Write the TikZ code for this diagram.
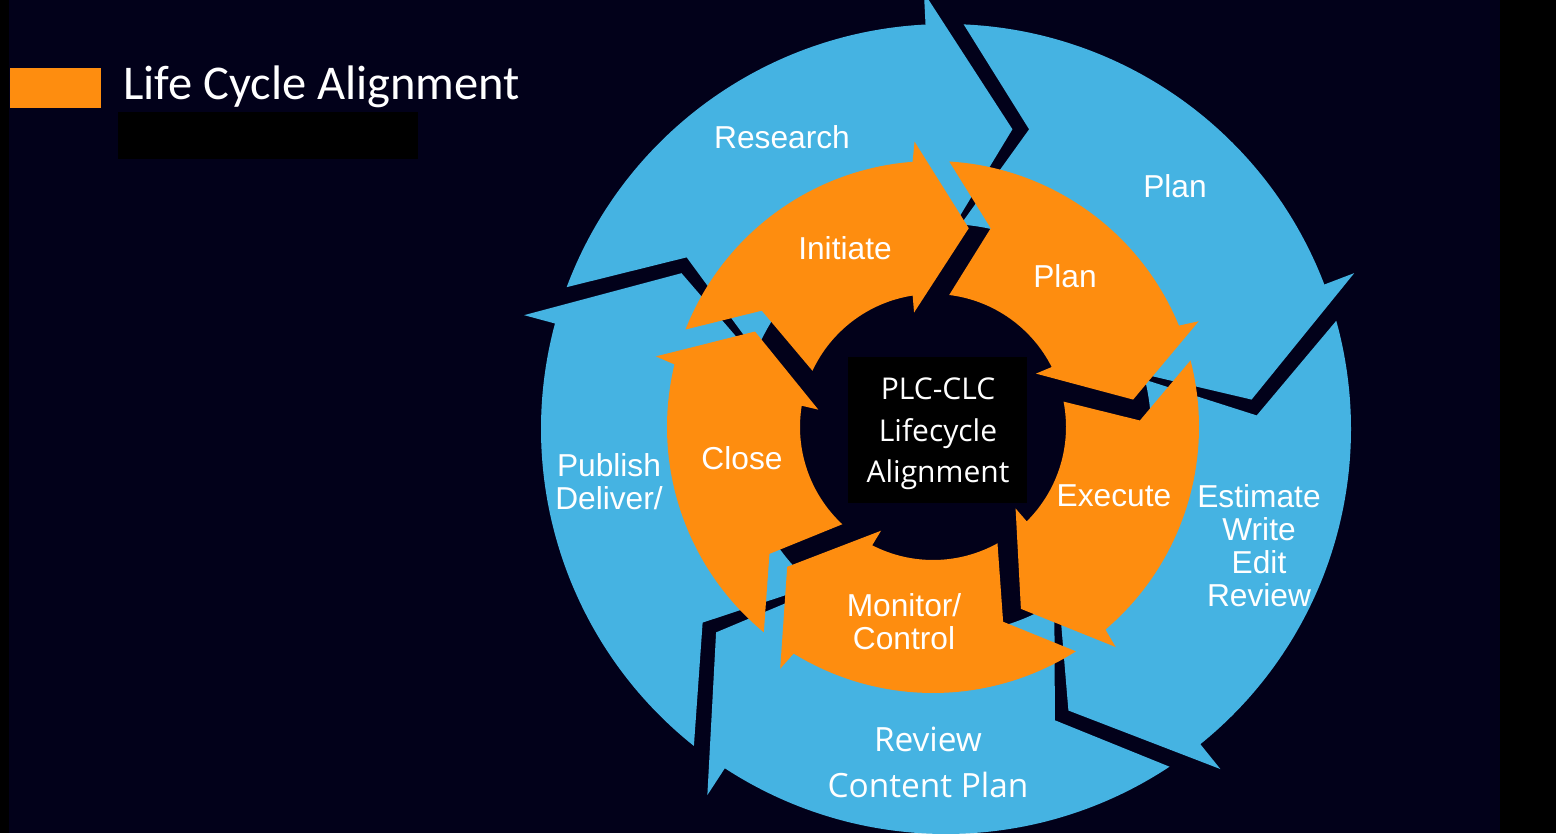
\documentclass[tikz,border=0pt]{standalone}
\usepackage{fontspec}
\setmainfont{Liberation Sans}
\newfontfamily\segoefont{Open Sans}
\newfontfamily\titlefont{Carlito}
\usetikzlibrary{calc}
\definecolor{bgnavy}{RGB}{2,1,26}
\definecolor{cycleblue}{RGB}{69,179,226}
\definecolor{cycleorange}{RGB}{254,141,15}

\tikzset{
  steplabel/.style={text=white, inner sep=0pt, align=center, font=\fontsize{31.7}{33}\selectfont},
  hublabel/.style={text=white, inner sep=0pt, align=center, font=\segoefont\fontsize{30}{41.7}\selectfont},
  reviewlabel/.style={text=white, inner sep=0pt, align=center, font=\segoefont\fontsize{33.4}{46}\selectfont},
}

\begin{document}
\begin{tikzpicture}[x=1pt, y=1pt]
  \fill[bgnavy] (0,0) rectangle (1556,833);
  \fill[black] (0,0) rectangle (9,833);
  \fill[black] (1500,0) rectangle (1556,833);
  \useasboundingbox (0,0) rectangle (1556,833);

  \coordinate (cb) at (946,404);
  \coordinate (co) at (933,406);

  \foreach \tailang in {87.5,15.5,-56.5,-128.5,-200.5} {
    \pgfmathsetmacro{\nextang}{\tailang-72}
    \pgfmathsetmacro{\endout}{\nextang+5.4}
    \pgfmathsetmacro{\tipang}{\nextang-10}
    \pgfmathsetmacro{\barbin}{\nextang+6}
    \pgfmathsetmacro{\endin}{\tailang-1.6}
    \pgfmathsetmacro{\notchang}{\tailang-13}
    \fill[cycleblue] ($(cb)+(\tailang:405)$) arc[start angle=\tailang, end angle=\endout, radius=405]
      -- ($(cb)+(\endout:437)$) -- ($(cb)+(\tipang:307)$) -- ($(cb)+(\barbin:173)$)
      -- ($(cb)+(\barbin:205)$) arc[start angle=\barbin, end angle=\endin, radius=205]
      -- ($(cb)+(\notchang:311)$) -- cycle;
  }

  \foreach \tailang in {86.5,14.5,-57.5,-129.5,-201.5} {
    \pgfmathsetmacro{\nextang}{\tailang-72}
    \pgfmathsetmacro{\endout}{\nextang+7.9}
    \pgfmathsetmacro{\barbout}{\nextang+7.2}
    \pgfmathsetmacro{\tipang}{\nextang-6.7}
    \pgfmathsetmacro{\barbin}{\nextang+12.9}
    \pgfmathsetmacro{\startin}{\nextang+12.3}
    \pgfmathsetmacro{\endin}{\tailang-3.5}
    \pgfmathsetmacro{\notchang}{\tailang-12.7}
    \fill[cycleorange] ($(co)+(\tailang:266)$) arc[start angle=\tailang, end angle=\endout, radius=266]
      -- ($(co)+(\barbout:286)$) -- ($(co)+(\tipang:202)$) -- ($(co)+(\barbin:116)$)
      -- ($(co)+(\startin:133)$) arc[start angle=\startin, end angle=\endin, radius=133]
      -- ($(co)+(\notchang:207)$) -- cycle;
  }

  \node[fill=black, inner sep=0pt, minimum width=179, minimum height=146, anchor=south west] (hub) at (848,330) {};
  \node[hublabel, anchor=base] (hubtext) at (938,350) {PLC-CLC\\Lifecycle\\Alignment};

  \node[steplabel, anchor=base] (research) at (782,684) {Research};
  \node[steplabel, anchor=base] (planblue) at (1175,635) {Plan};
  \node[steplabel, anchor=base] (estimate) at (1259,226) {Estimate\\Write\\Edit\\Review};
  \node[reviewlabel, anchor=base] (review) at (928,35) {Review\\Content Plan};
  \node[steplabel, anchor=base] (publish) at (609,323) {Publish\\Deliver/};

  \node[steplabel, anchor=base] (initiate) at (845,573) {Initiate};
  \node[steplabel, anchor=base] (planorange) at (1065,545) {Plan};
  \node[steplabel, anchor=base] (execute) at (1114,326) {Execute};
  \node[steplabel, anchor=base] (monitor) at (904,183) {Monitor/\\Control};
  \node[steplabel, anchor=base] (close) at (742,363) {Close};

  \node[fill=black, inner sep=0pt, minimum width=300, minimum height=47, anchor=south west] (titlebar) at (118,674) {};
  \node[fill=cycleorange, inner sep=0pt, minimum width=91, minimum height=40, anchor=south west] (titlekey) at (10,725) {};
  \node[text=white, inner sep=0pt, anchor=base west, font=\titlefont\fontsize{48.5}{51}\selectfont] (title) at (123,733) {Life Cycle Alignment};
\end{tikzpicture}
\end{document}
